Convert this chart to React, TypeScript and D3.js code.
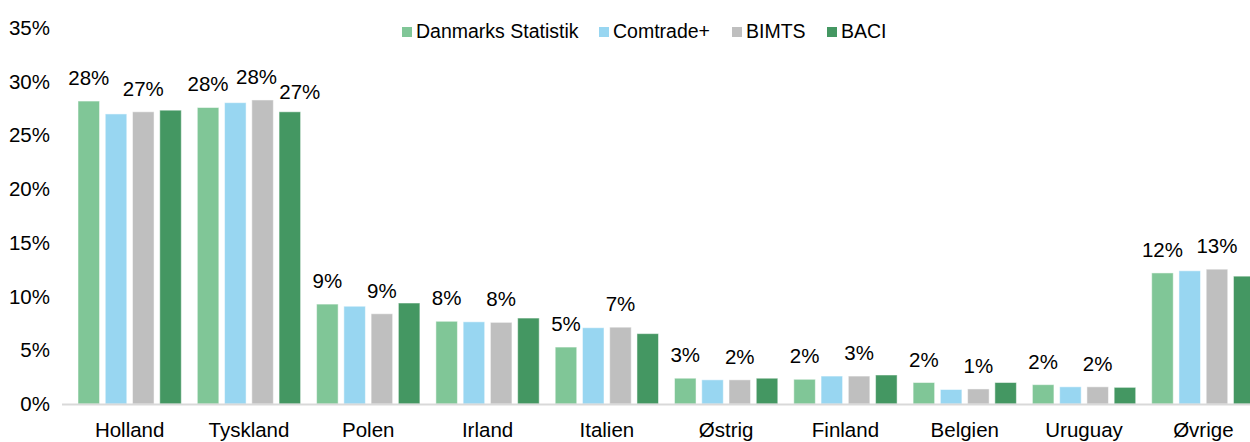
import React, { useEffect, useRef } from 'react';
import * as d3 from 'd3';

const WIDTH = 1250;
const HEIGHT = 442;
const MARGIN = { top: 28, bottom: 38, left: 70, right: -13 };
const FONT = '"Liberation Sans", Arial, sans-serif';

const CATEGORIES = ['Holland', 'Tyskland', 'Polen', 'Irland', 'Italien', 'Østrig', 'Finland', 'Belgien', 'Uruguay', 'Øvrige'];
const SERIES = ['Danmarks Statistik', 'Comtrade+', 'BIMTS', 'BACI'];
const COLORS = ['#80c697', '#98d6f1', '#bfbfbf', '#449762'];

// shares in %, one array per source
const DANMARKS_STATISTIK = [28.2, 27.6, 9.3, 7.7, 5.3, 2.4, 2.3, 2.0, 1.8, 12.2];
const COMTRADE = [27.0, 28.05, 9.1, 7.65, 7.1, 2.25, 2.6, 1.35, 1.6, 12.4];
const BIMTS = [27.2, 28.3, 8.4, 7.6, 7.15, 2.25, 2.6, 1.4, 1.6, 12.55];
const BACI = [27.35, 27.2, 9.4, 8.0, 6.55, 2.4, 2.7, 2.0, 1.55, 11.9];
const VALUES = [DANMARKS_STATISTIK, COMTRADE, BIMTS, BACI];

// data labels as printed in the source chart: [category, series, text]
const LABELS: [number, number, string][] = [
    [0, 0, '28%'], [0, 2, '27%'],
    [1, 0, '28%'], [1, 2, '28%'], [1, 3, '27%'],
    [2, 0, '9%'], [2, 2, '9%'],
    [3, 0, '8%'], [3, 2, '8%'],
    [4, 0, '5%'], [4, 2, '7%'],
    [5, 0, '3%'], [5, 2, '2%'],
    [6, 0, '2%'], [6, 2, '3%'],
    [7, 0, '2%'], [7, 2, '1%'],
    [8, 0, '2%'], [8, 2, '2%'],
    [9, 0, '12%'], [9, 2, '13%'],
];
// small nudges where labels would collide (Tyskland)
const LABEL_NUDGE: Record<string, [number, number]> = {
    '1-2': [-6, 0],
    '1-3': [10, 3],
};

const Y_TICKS = [0, 5, 10, 15, 20, 25, 30, 35];

export default function App() {
    const ref = useRef<SVGSVGElement>(null);

    useEffect(() => {
        if (!ref.current) return;
        const svg = d3.select(ref.current);
        svg.selectAll('*').remove();

        const x = d3.scaleBand()
            .domain(CATEGORIES)
            .range([MARGIN.left, WIDTH - MARGIN.right])
            .paddingInner(0)
            .paddingOuter(0);

        const xs = d3.scaleBand()
            .domain(SERIES)
            .range([8, x.bandwidth() - 8])
            .paddingInner(0.21)
            .paddingOuter(0);

        const y = d3.scaleLinear()
            .domain([0, 35])
            .range([HEIGHT - MARGIN.bottom, MARGIN.top]);

        // y axis labels
        const yAxis = svg.append('g')
            .attr('transform', `translate(50, 0)`)
            .call(d3.axisLeft(y).tickValues(Y_TICKS).tickFormat(d => `${d}%`).tickSize(0).tickPadding(0));
        yAxis.select('.domain').remove();
        yAxis.selectAll('text')
            .attr('font-family', FONT)
            .attr('font-size', 20.5)
            .attr('fill', '#000');

        // bars
        const groups = svg.append('g')
            .selectAll('g')
            .data(CATEGORIES)
            .join('g')
            .attr('transform', d => `translate(${x(d)}, 0)`);

        groups.selectAll('rect')
            .data((_, ci) => SERIES.map((s, si) => ({ s, si, v: VALUES[si][ci] })))
            .join('rect')
            .attr('x', d => xs(d.s)!)
            .attr('y', d => y(d.v))
            .attr('width', xs.bandwidth())
            .attr('height', d => y(0) - y(d.v))
            .attr('fill', d => COLORS[d.si])
            .attr('stroke', '#ffffff')
            .attr('stroke-opacity', 0.5)
            .attr('stroke-width', 1);

        // baseline
        svg.append('line')
            .attr('x1', 62)
            .attr('x2', WIDTH)
            .attr('y1', y(0) + 0.5)
            .attr('y2', y(0) + 0.5)
            .attr('stroke', '#d9d9d9')
            .attr('stroke-width', 2);

        // x axis labels
        const xAxis = svg.append('g')
            .attr('transform', `translate(0, ${y(0)})`)
            .call(d3.axisBottom(x).tickSize(0).tickPadding(18));
        xAxis.select('.domain').remove();
        xAxis.selectAll('text')
            .attr('font-family', FONT)
            .attr('font-size', 20.5)
            .attr('fill', '#000');

        // data labels
        svg.append('g')
            .selectAll('text')
            .data(LABELS)
            .join('text')
            .attr('x', ([ci, si]) => x(CATEGORIES[ci])! + xs(SERIES[si])! + xs.bandwidth() / 2 + (LABEL_NUDGE[`${ci}-${si}`]?.[0] ?? 0))
            .attr('y', ([ci, si]) => y(VALUES[si][ci]) - 16 + (LABEL_NUDGE[`${ci}-${si}`]?.[1] ?? 0))
            .attr('text-anchor', 'middle')
            .attr('font-family', FONT)
            .attr('font-size', 20.5)
            .attr('fill', '#000')
            .text(d => d[2]);

        // legend
        const legendX = [402, 599, 732, 827];
        const legend = svg.append('g')
            .selectAll('g')
            .data(SERIES)
            .join('g')
            .attr('transform', (_, i) => `translate(${legendX[i]}, 27)`);
        legend.append('rect')
            .attr('width', 10)
            .attr('height', 10)
            .attr('fill', (_, i) => COLORS[i]);
        legend.append('text')
            .attr('x', 14)
            .attr('y', 10.5)
            .attr('font-family', FONT)
            .attr('font-size', 19.5)
            .attr('fill', '#000')
            .text(d => d);

        return () => {
            svg.selectAll('*').remove();
        };
    }, []);

    return (
        <svg
            ref={ref}
            width={WIDTH}
            height={HEIGHT}
            style={{ position: 'absolute', left: 0, top: 0, background: '#fff' }}
        />
    );
}
